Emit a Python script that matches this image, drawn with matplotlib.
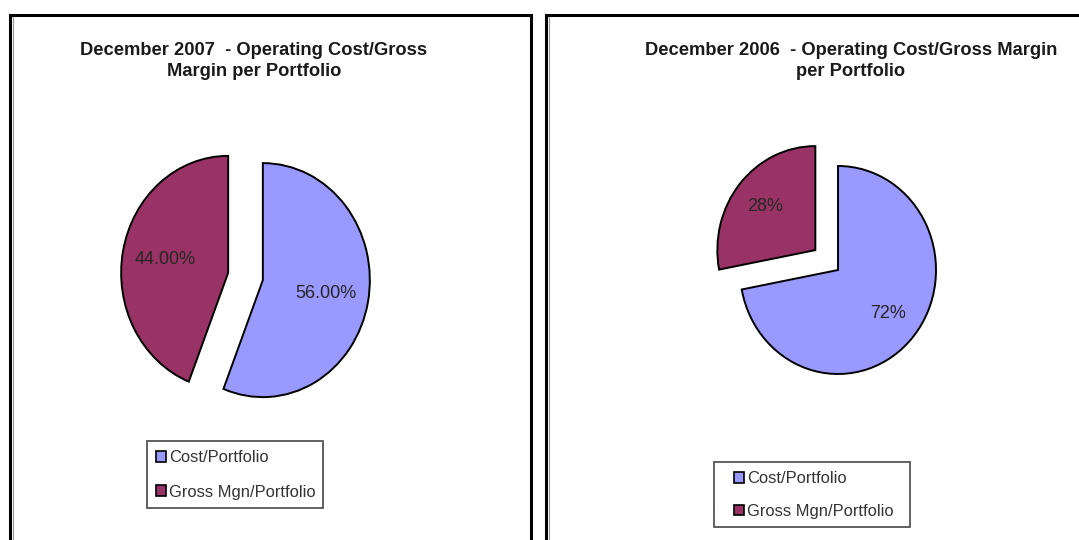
import matplotlib.pyplot as plt
from matplotlib.patches import Patch, Rectangle
from matplotlib.lines import Line2D

plt.rcParams['font.family'] = ['Liberation Sans', 'DejaVu Sans']

# data
labels = ['Cost/Portfolio', 'Gross Mgn/Portfolio']
share_2007 = [56.0, 44.0]
share_2006 = [72.0, 28.0]
colors = ['#9999FF', '#993366']

W, H = 1079, 540
fig = plt.figure(figsize=(W / 100, H / 100), dpi=100)


def fx(x):
    return x / W


def fy(y):
    return 1 - y / H


def pie_axes(cx, cy, rx, ry, pad=1.5):
    # axes where one pie radius = rx px wide and ry px tall
    ax = fig.add_axes([fx(cx - pad * rx), fy(cy + pad * ry),
                       2 * pad * rx / W, 2 * pad * ry / H])
    return ax, pad


def draw_pie(ax, pad, values, fmt, explode, pctdist):
    ax.pie(values, colors=colors, explode=explode, startangle=90,
           counterclock=False, autopct=fmt, pctdistance=pctdist,
           wedgeprops=dict(edgecolor='black', linewidth=1.4),
           textprops=dict(fontsize=13, color='#262626'))
    ax.set_aspect('auto')
    ax.set_xlim(-pad, pad)
    ax.set_ylim(-pad, pad)
    ax.axis('off')


def box(x0, y0, x1, y1, **kw):
    fig.patches.append(Rectangle((fx(x0), fy(y1)), fx(x1) - fx(x0), fy(y0) - fy(y1),
                                 transform=fig.transFigure, fill=False, **kw))


def legend_at(frame, x, ymid, spacing):
    box(*frame, edgecolor='#555555', linewidth=1.3)
    handles = [Patch(facecolor=c, edgecolor='black', linewidth=1.2) for c in colors]
    leg = fig.legend(handles, labels, loc='center left',
                     bbox_to_anchor=(fx(x), fy(ymid)), bbox_transform=fig.transFigure,
                     borderaxespad=0, borderpad=0, frameon=False,
                     handlelength=0.6, handleheight=0.6, handletextpad=0.2,
                     labelspacing=spacing, prop=dict(size=11.9))
    for t in leg.get_texts():
        t.set_color('#333333')
    return leg


# panel borders
box(9.5, 14.5, 531, 560, edgecolor='black', linewidth=2.2)
box(545.5, 14.5, 1090, 560, edgecolor='black', linewidth=2.2)
for xg in [12.5, 548.5]:
    fig.add_artist(Line2D([fx(xg), fx(xg)], [fy(16.5), 0], transform=fig.transFigure,
                          color='#999999', linewidth=0.8))

# left panel: December 2007
ax1, p1 = pie_axes(245.5, 276.5, 107, 117)
draw_pie(ax1, p1, share_2007, '%.2f%%', [0.165, 0.165], 0.6)
fig.text(fx(254), fy(61), 'December 2007  - Operating Cost/Gross\nMargin per Portfolio',
         ha='center', va='center', fontsize=13.2, fontweight='bold',
         color='#1a1a1a', linespacing=1.35)
legend_at((147, 441, 323, 508), 156, 475, 1.15)

# right panel: December 2006
ax2, p2 = pie_axes(838, 270, 98, 104)
draw_pie(ax2, p2, share_2006, '%.0f%%', [0.0, 0.3], 0.66)
fig.text(fx(851), fy(61), 'December 2006  - Operating Cost/Gross Margin\nper Portfolio',
         ha='center', va='center', fontsize=13.2, fontweight='bold',
         color='#1a1a1a', linespacing=1.35)
legend_at((714, 462, 910, 527), 734, 495, 1.05)

fig.savefig('out.png', dpi=100)
